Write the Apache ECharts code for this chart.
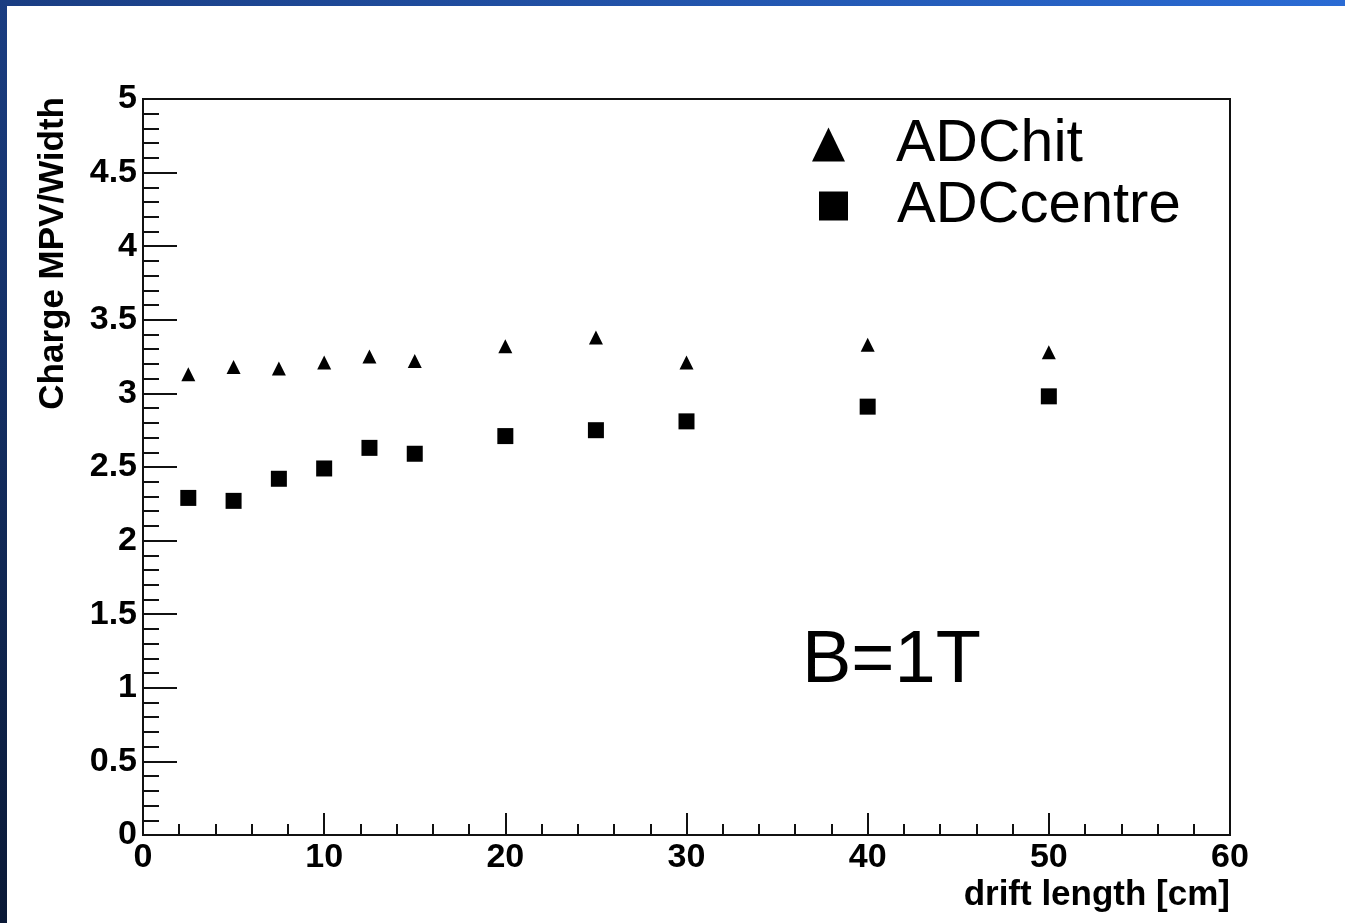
<!DOCTYPE html>
<html>
<head>
<meta charset="utf-8">
<script src="https://cdn.jsdelivr.net/npm/echarts@6/dist/echarts.min.js"></script>
<style>
  html, body { margin: 0; padding: 0; background: #fff; }
  #chart { width: 1345px; height: 923px; }
</style>
</head>
<body>
<div id="chart"></div>
<script>
// drift length points [cm]
const driftLength = [2.5, 5, 7.5, 10, 12.5, 15, 20, 25, 30, 40, 50]
// charge MPV / width
const adcHit = [3.13, 3.18, 3.17, 3.21, 3.25, 3.22, 3.32, 3.38, 3.21, 3.33, 3.28]
const adcCentre = [2.29, 2.27, 2.42, 2.49, 2.63, 2.59, 2.71, 2.75, 2.81, 2.91, 2.98]
const xTicks = [0, 10, 20, 30, 40, 50, 60]
const yTicks = [0, 0.5, 1, 1.5, 2, 2.5, 3, 3.5, 4, 4.5, 5]

const font = '"Liberation Sans", Arial, sans-serif'
const pair = (xs, ys) => xs.map((x, i) => [x, ys[i]])

const chart = echarts.init(document.getElementById('chart'))

chart.setOption({
  animation: false,
  backgroundColor: '#fff',
  grid: {
    left: 143, right: 115, top: 99, bottom: 88,
    containLabel: false,
    outerBoundsMode: 'none',
    show: true, borderColor: '#111', borderWidth: 2
  },
  xAxis: {
    type: 'value',
    min: xTicks[0], max: xTicks[xTicks.length - 1], interval: 10,
    splitLine: { show: false },
    axisLine: { lineStyle: { color: '#111', width: 2 } },
    axisTick: { inside: true, length: 22, lineStyle: { color: '#111', width: 2 } },
    minorTick: { show: true, splitNumber: 5, length: 11, lineStyle: { color: '#111', width: 2 } },
    axisLabel: { margin: 6, color: '#000', fontFamily: font, fontWeight: 'bold', fontSize: 34 }
  },
  yAxis: {
    type: 'value',
    min: yTicks[0], max: yTicks[yTicks.length - 1], interval: 0.5,
    splitLine: { show: false },
    axisLine: { lineStyle: { color: '#111', width: 2 } },
    axisTick: { inside: true, length: 34, lineStyle: { color: '#111', width: 2 } },
    minorTick: { show: true, splitNumber: 5, length: 16, lineStyle: { color: '#111', width: 2 } },
    axisLabel: { margin: 6, color: '#000', fontFamily: font, fontWeight: 'bold', fontSize: 34 }
  },
  legend: [
    {
      data: [{ name: 'ADChit', icon: 'triangle' }],
      left: 807, top: 110,
      itemWidth: 33, itemHeight: 34,
      itemStyle: { opacity: 1 },
      textStyle: { color: '#000', fontFamily: font, fontSize: 59, padding: [0, 0, 6, 46] }
    },
    {
      data: [{ name: 'ADCcentre', icon: 'rect' }],
      left: 814, top: 172,
      itemWidth: 29, itemHeight: 29,
      itemStyle: { opacity: 1 },
      textStyle: { color: '#000', fontFamily: font, fontSize: 58, padding: [0, 0, 29, 44] }
    }
  ],
  series: [
    {
      name: 'ADChit',
      type: 'scatter',
      symbol: 'triangle',
      symbolSize: [14, 14],
      itemStyle: { color: '#000', opacity: 1 },
      data: pair(driftLength, adcHit)
    },
    {
      name: 'ADCcentre',
      type: 'scatter',
      symbol: 'rect',
      symbolSize: 16,
      itemStyle: { color: '#000', opacity: 1 },
      data: pair(driftLength, adcCentre)
    }
  ],
  graphic: [
    {
      type: 'rect', left: 0, top: 0, z: 100,
      shape: { width: 1345, height: 6 },
      style: {
        fill: new echarts.graphic.LinearGradient(0, 0, 1, 0, [
          { offset: 0, color: '#1a3d82' },
          { offset: 1, color: '#2a6bd4' }
        ])
      }
    },
    {
      type: 'rect', left: 0, top: 0, z: 100,
      shape: { width: 7, height: 923 },
      style: {
        fill: new echarts.graphic.LinearGradient(0, 0, 0, 1, [
          { offset: 0, color: '#1a3d82' },
          { offset: 1, color: '#0a1936' }
        ])
      }
    },
    // axis titles, right-aligned at the axis ends as in ROOT
    {
      type: 'text', x: 1230, y: 895,
      style: {
        text: 'drift length [cm]', fill: '#000', align: 'right', verticalAlign: 'middle',
        font: 'bold 35px "Liberation Sans", Arial, sans-serif'
      }
    },
    {
      type: 'text', x: 53, y: 97, rotation: Math.PI / 2,
      style: {
        text: 'Charge MPV/Width', fill: '#000', align: 'right', verticalAlign: 'middle',
        font: 'bold 35px "Liberation Sans", Arial, sans-serif'
      }
    },
    {
      type: 'text', left: 802, top: 625,
      style: { text: 'B=1T', fill: '#000', font: '74px "Liberation Sans", Arial, sans-serif' }
    }
  ]
})
</script>
</body>
</html>
